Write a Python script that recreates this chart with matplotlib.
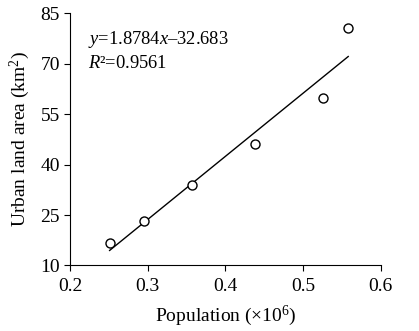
import matplotlib
matplotlib.use('Agg')
import matplotlib.pyplot as plt
import numpy as np

# population (x10^6) and urban land area (km2)
population = [0.251, 0.295, 0.357, 0.438, 0.526, 0.558]
urban_area = [16.8, 23.1, 34.0, 46.1, 59.9, 80.6]

# regression coefficients (x given in 10^4 persons)
slope = 1.8784
intercept = -32.683
r2 = 0.9561

plt.rcParams['font.family'] = ['Liberation Serif', 'DejaVu Serif']
plt.rcParams['mathtext.fontset'] = 'custom'
plt.rcParams['mathtext.rm'] = 'Liberation Serif'
plt.rcParams['mathtext.it'] = 'Liberation Serif:italic'

fs = 14

fig = plt.figure(figsize=(4.19, 3.31), dpi=100)
ax = fig.add_axes([0.167, 0.198, 0.742, 0.762])

ax.plot(population, urban_area, 'o', mfc='white', mec='black', mew=1.0, ms=6.5, zorder=3)

xs = np.array([min(population), max(population)])
ax.plot(xs, slope * xs * 100 + intercept, 'k-', lw=1.0)

ax.text(0.2232, 77.3, r'$y$=1.8784$x$–32.683', fontsize=13.3, va='center')
ax.text(0.2232, 70.2, r'$R$²=' + f'{r2}', fontsize=13.3, va='center')

ax.set_xlim(0.2, 0.6)
ax.set_ylim(10, 85)
ax.set_xticks([0.2, 0.3, 0.4, 0.5, 0.6])
ax.set_yticks([10, 25, 40, 55, 70, 85])
ax.spines['top'].set_visible(False)
ax.spines['right'].set_visible(False)
ax.tick_params(direction='out', length=4.3, width=0.8, labelsize=fs)
ax.tick_params(axis='x', pad=5)
ax.tick_params(axis='y', pad=3)

ax.set_xlabel('Population (×10$^6$)', fontsize=fs, labelpad=6)
ax.set_ylabel('Urban land area (km$^2$)', fontsize=fs, labelpad=6)

fig.savefig('out.png', dpi=100)
